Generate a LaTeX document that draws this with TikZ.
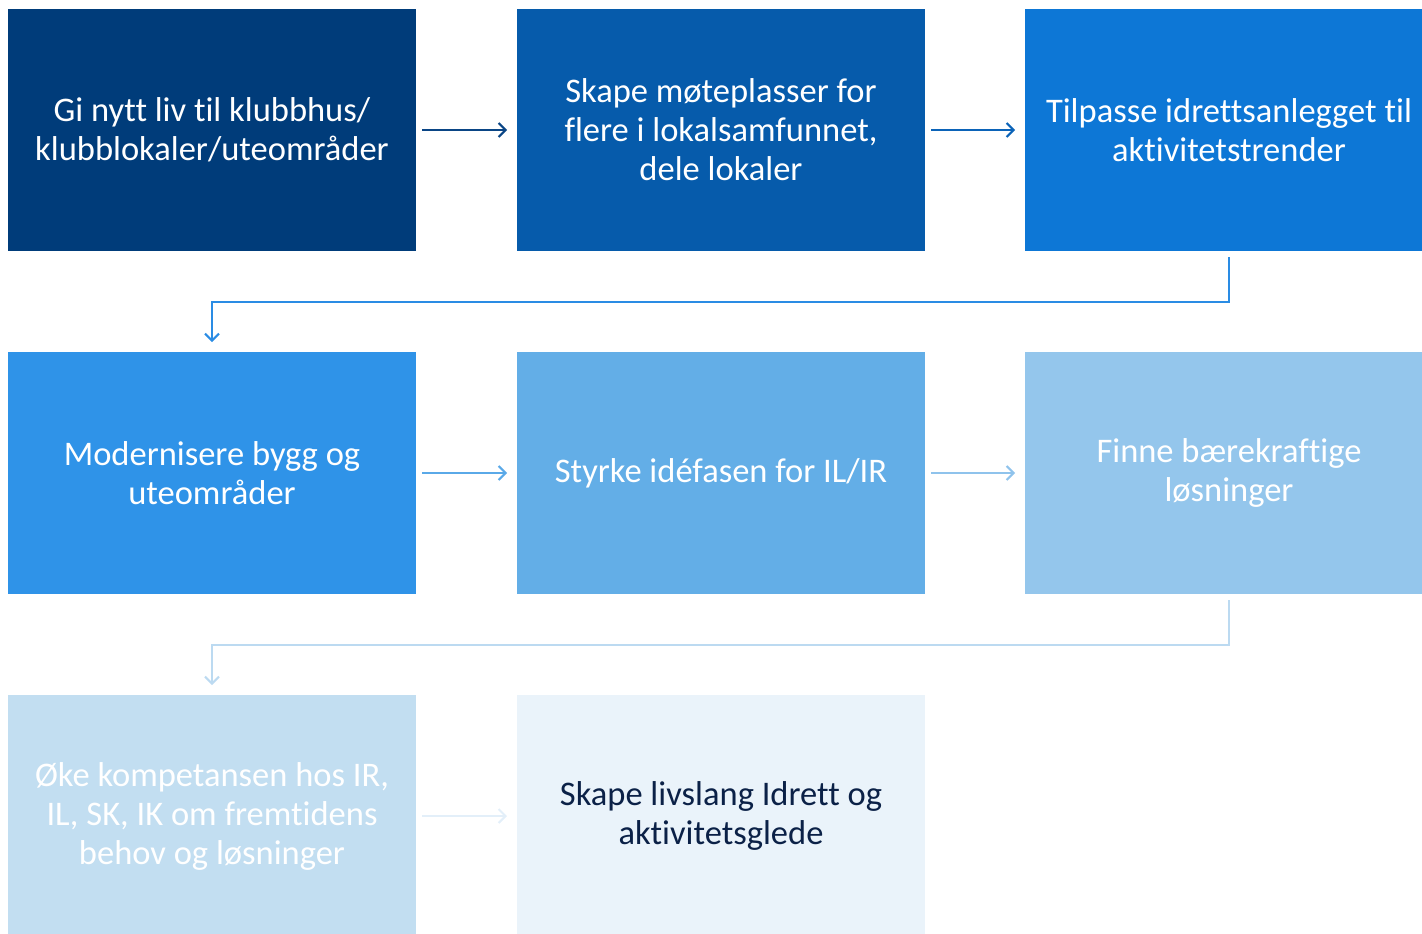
\documentclass[tikz,border=0pt]{standalone}
\usepackage{fontspec}
\setmainfont{Carlito}[Ligatures={NoCommon}]
\usetikzlibrary{arrows.meta,calc}
\definecolor{c1}{HTML}{003C7A}
\definecolor{c2}{HTML}{065BAB}
\definecolor{c3}{HTML}{0D77D6}
\definecolor{c4}{HTML}{2F93E8}
\definecolor{c5}{HTML}{63AEE7}
\definecolor{c6}{HTML}{94C6EC}
\definecolor{c7}{HTML}{C2DEF1}
\definecolor{c8}{HTML}{EAF3FA}
\definecolor{a1}{HTML}{0A4585}
\definecolor{a2}{HTML}{0B63B8}
\definecolor{a3}{HTML}{2A8CE4}
\definecolor{a4}{HTML}{5AA9E8}
\definecolor{a5}{HTML}{8FC3EC}
\definecolor{a6}{HTML}{BCDAF1}
\definecolor{a7}{HTML}{E3EFF9}
\definecolor{txtdark}{HTML}{0B2147}
\tikzset{
  box/.style={minimum width=408pt, minimum height=242pt, inner sep=0pt, outer sep=0pt,
    align=center, text=white, font=\fontsize{34.5}{39}\selectfont},
  conn/.style={line width=2pt, shorten <=6pt, shorten >=10pt,
    -{Straight Barb[length=7pt,width=14pt,line width=2pt]}},
}
\begin{document}
\begin{tikzpicture}[x=1pt,y=-1pt]
\useasboundingbox (0,0) rectangle (1422,934);
\node[box, fill=c1] (b1) at (212,130) {Gi nytt liv til klubbhus/\\klubblokaler/uteområder};
\node[box, fill=c2] (b2) at (721,130) {Skape møteplasser for\\flere i lokalsamfunnet,\\dele lokaler};
\node[box, fill=c3] (b3) at (1229,130) {Tilpasse idrettsanlegget til\\aktivitetstrender};
\node[box, fill=c4] (b4) at (212,473) {Modernisere bygg og\\uteområder};
\node[box, fill=c5] (b5) at (721,473) {Styrke idéfasen for IL/IR};
\node[box, fill=c6] (b6) at (1229,473) {Finne bærekraftige\\løsninger};
\node[box, fill=c7] (b7) at (212,816) {Øke kompetansen hos IR,\\IL, SK, IK om fremtidens\\behov og løsninger};
\node[box, fill=c8, text=txtdark] (b8) at (721,816) {Skape livslang Idrett og\\aktivitetsglede};
\draw[conn, a1] (b1.east) -- (b2.west);
\draw[conn, a2] (b2.east) -- (b3.west);
\draw[conn, a3] (b3.south) |- ($(b3.south)!0.5!(b4.north)$) -| (b4.north);
\draw[conn, a4] (b4.east) -- (b5.west);
\draw[conn, a5] (b5.east) -- (b6.west);
\draw[conn, a6] (b6.south) |- ($(b6.south)!0.5!(b7.north)$) -| (b7.north);
\draw[conn, a7] (b7.east) -- (b8.west);
\end{tikzpicture}
\end{document}
